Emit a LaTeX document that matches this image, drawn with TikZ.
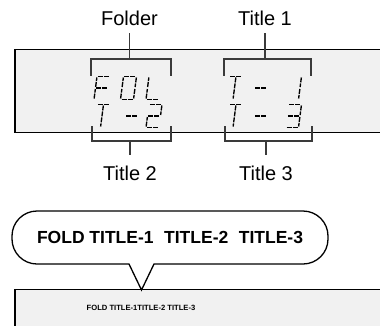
\documentclass[tikz,border=0pt]{standalone}
\usepackage{fontspec}
\setmainfont{Liberation Sans}
\usetikzlibrary{calc}
\definecolor{panel}{RGB}{241,241,241}
\definecolor{brk}{RGB}{58,58,58}
\newcommand\dsegA{\draw[seg] (1,23)--(12,23);}
\newcommand\dsegB{\draw[seg] (13,22)--(13,12.5);}
\newcommand\dsegC{\draw[seg] (13,10.5)--(13,1);}
\newcommand\dsegD{\draw[seg] (1,0)--(12,0);}
\newcommand\dsegE{\draw[seg] (0,1)--(0,10.5);}
\newcommand\dsegF{\draw[seg] (0,12.5)--(0,22);}
\newcommand\dsegG{\draw[seg] (1,11.5)--(12,11.5);}
\newcommand\dsegT{\draw[seg] (6.5,22)--(6.5,1);}
\newcommand\dchar[3]{%
  \begin{scope}[shift={(#1,#2)},x=1pt,y=1pt,xslant=0.13]
    \foreach \s in {#3}{\csname dseg\s\endcsname}
  \end{scope}}
\begin{document}
\begin{tikzpicture}[x=1pt,y=-1pt,
  panelbox/.style={draw=black,line width=1.1pt,fill=panel},
  lbl/.style={font=\fontsize{20}{24}\selectfont,text=black,inner sep=0pt},
  br/.style={draw=brk,line width=1.8pt},
  seg/.style={draw=black,line width=1.35pt,dash pattern=on 5pt off 1pt},
  bubble/.style={draw=black,line width=1.3pt,fill=white,rounded corners=25pt,
    minimum width=316pt,minimum height=53pt,inner sep=0pt,
    font=\bfseries\fontsize{17.5}{20}\selectfont},
  smalltxt/.style={font=\bfseries\fontsize{7.6}{9}\selectfont,inner sep=0pt}
]
\useasboundingbox (0,0) rectangle (380,325);

% top display panel
\path[panelbox] (15,49.5) rectangle (395,132.7);

% labels
\node[lbl,anchor=base] (folder) at (129.5,25) {Folder};
\node[lbl,anchor=base] (title1) at (265,25) {Title 1};
\node[lbl,anchor=base] (title2) at (130,180) {Title 2};
\node[lbl,anchor=base] (title3) at (266,180) {Title 3};

% bracket coordinates
\coordinate (fb) at (129.5,59);
\coordinate (t1b) at (265,59);
\coordinate (t2b) at (130,141);
\coordinate (t3b) at (266,141);

% top brackets
\draw[br] (91,75.5) -- (91,59) -- (170.7,59) -- (170.7,75.5);
\draw[br,shorten <=8pt] (folder.south) -- (fb);
\draw[br] (224,75.5) -- (224,59) -- (311,59) -- (311,75.5);
\draw[br,shorten <=8pt] (title1.south) -- (t1b);

% bottom brackets
\draw[br] (92.3,126) -- (92.3,141) -- (170.7,141) -- (170.7,126);
\draw[br,shorten >=10.5pt] (t2b) -- (title2.north);
\draw[br] (225,126) -- (225,141) -- (311.7,141) -- (311.7,126);
\draw[br,shorten >=10.5pt] (t3b) -- (title3.north);

% segment characters: folder area
\dchar{94}{99.5}{A,F,G,E}
\dchar{120.5}{99.5}{A,B,C,D,E,F}
\dchar{146}{99.5}{F,E,D}
\dchar{94}{127.5}{A,T}
\dchar{124}{127.5}{G}
\dchar{146}{127.5}{A,B,G,E,D}
% title area
\dchar{226.5}{99.5}{A,T}
\dchar{253}{99.5}{G}
\dchar{285.5}{99.5}{B,C}
\dchar{226.5}{127.5}{A,T}
\dchar{253}{127.5}{G}
\dchar{285.5}{127.5}{A,B,G,C,D}

% bottom panel
\path[panelbox] (15,289.5) rectangle (395,340);
\node[smalltxt] (small) at (141,307.5) {FOLD TITLE-1TITLE-2 TITLE-3};

% callout bubble
\node[bubble] (bub) at (170,237.5) {FOLD TITLE-1\hspace{0.6em}TITLE-2\hspace{0.6em}TITLE-3};
\coordinate (pl) at (129,264);
\coordinate (pr) at (154,264);
\coordinate (tip) at (141.5,290);
\fill[white] ($(pl)+(0,-1.6)$) -- (tip) -- ($(pr)+(0,-1.6)$) -- cycle;
\draw[line width=1.3pt,line join=miter] (pl) -- (tip) -- (pr);
\end{tikzpicture}
\end{document}
